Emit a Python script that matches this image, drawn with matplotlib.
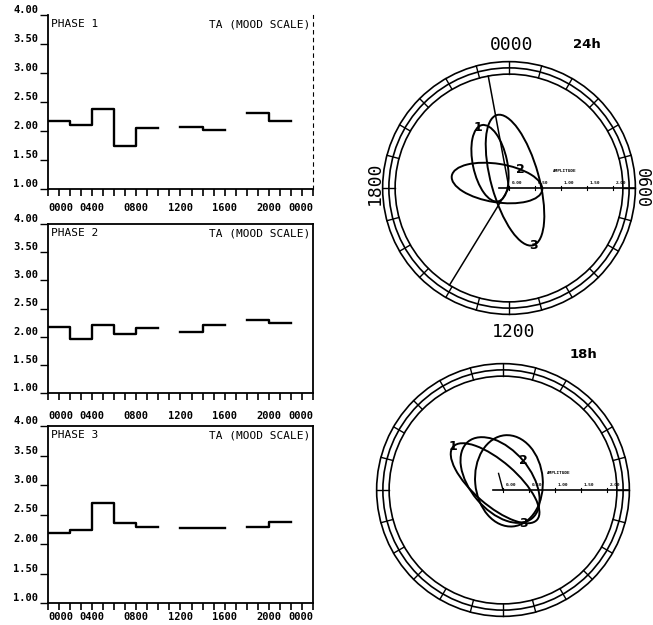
import numpy as np
import matplotlib
matplotlib.use("Agg")
import matplotlib.pyplot as plt
from matplotlib.patches import Ellipse, Circle

nan = np.nan

# mean TA (mood scale) per 2-hour bin, bins start at 0000; nan = no data
bin_start = [0, 2, 4, 6, 8, 10, 12, 14, 16, 18, 20, 22]
phase1 = [2.18, 2.10, 2.38, 1.74, 2.05, nan, 2.07, 2.01, nan, 2.31, 2.18, nan]
phase2 = [2.17, 1.95, 2.21, 2.05, 2.15, nan, 2.09, 2.20, nan, 2.30, 2.25, nan]
phase3 = [2.18, 2.23, 2.69, 2.36, 2.28, nan, 2.27, 2.27, nan, 2.29, 2.38, nan]
phase_titles = ["PHASE 1", "PHASE 2", "PHASE 3"]

hour_ticks = [0, 4, 8, 12, 16, 20, 24]
hour_labels = ["0000", "0400", "0800", "1200", "1600", "2000", "0000"]
ta_ticks = [1.0, 1.5, 2.0, 2.5, 3.0, 3.5, 4.0]

# cosinor ellipses: centre amplitude, centre acrophase (h), semi-axes, tilt (deg)
cos24_label = ["1", "2", "3"]
cos24_amp = [0.60, 0.25, 0.19]
cos24_acro = [21.5, 19.5, 2.5]
cos24_semi_a = [0.75, 0.88, 1.30]
cos24_semi_b = [0.33, 0.37, 0.46]
cos24_tilt = [102, -9, 105.5]
cos24_lines = [23.3, 14.1]  # acrophase limits (h)

cos18_label = ["1", "2", "3"]
cos18_amp = [0.20, 0.20, 0.21]
cos18_acro = [20.7, 22.9, 2.2]
cos18_semi_a = [1.07, 0.96, 0.88]
cos18_semi_b = [0.42, 0.58, 0.65]
cos18_tilt = [-41, -50, 95]

amp_ticks = [0.0, 0.5, 1.0, 1.5, 2.0]

MONO = "DejaVu Sans Mono"
RINGS = [2.19, 2.31, 2.43]


def polar_xy(amp, hour):
    ang = np.deg2rad(np.asarray(hour) / 24.0 * 360.0)
    return amp * np.sin(ang), amp * np.cos(ang)


def draw_profile(ax, values, title, ipanel, pad):
    ax.step(bin_start, values, where="post", color="black", lw=1.7)
    ax.set_xlim(0, 24)
    ax.set_ylim(1, 4)
    ax.set_xticks(hour_ticks)
    ax.set_xticks(range(25), minor=True)
    ax.set_xticklabels(hour_labels, fontfamily=MONO, fontweight="bold", fontsize=7.5)
    labs = ax.get_xticklabels()
    labs[0].set_ha("left")
    labs[-1].set_ha("right")
    ax.set_yticks(ta_ticks)
    ax.set_yticklabels(["%.2f" % v for v in ta_ticks], fontfamily=MONO,
                       fontweight="bold", fontsize=7.5)
    for lab in ax.get_yticklabels():
        lab.set_va("bottom")
    ax.tick_params(axis="x", which="both", direction="out", length=5, width=1.2, pad=pad)
    ax.tick_params(axis="y", direction="out", length=6, width=1.0, pad=1)
    for s in ax.spines.values():
        s.set_linewidth(1.3)
    if ipanel == 0:
        ax.spines["top"].set_visible(False)
        ax.spines["right"].set_linestyle((0, (3, 4)))
        ax.spines["right"].set_linewidth(0.8)
    ax.text(0.01, 0.975, title, transform=ax.transAxes, ha="left", va="top",
            fontfamily=MONO, fontsize=8)
    ax.text(0.99, 0.975, "TA (MOOD SCALE)", transform=ax.transAxes, ha="right",
            va="top", fontfamily=MONO, fontsize=8)


def draw_cosinor(ax, labels, amps, acros, sa, sb, tilts, label_t):
    half = 150 / 52.0
    ax.set_xlim(-half, half)
    ax.set_ylim(-half, half)
    ax.set_aspect("equal")
    ax.axis("off")
    for r in RINGS:
        ax.add_patch(Circle((0, 0), r, fill=False, lw=1.2, ec="black"))
    for k in range(24):
        x0, y0 = polar_xy(RINGS[0], k)
        x1, y1 = polar_xy(RINGS[2], k)
        ax.plot([x0, x1], [y0, y1], color="black", lw=1.0)
    # amplitude axis
    ax.plot([-0.2, RINGS[2]], [0, 0], color="black", lw=1.2)
    for t in amp_ticks:
        ax.plot([t, t], [-0.04, 0.04], color="black", lw=0.8)
        ax.text(t + 0.05, 0.06, "%.2f" % t, fontsize=3.2, fontweight="bold",
                ha="left", va="bottom", fontfamily=MONO)
    ax.text(1.08, 0.33, "AMPLITUDE", fontsize=3.2, fontweight="bold",
            ha="center", va="center", fontfamily=MONO)
    for lab, a, h, A, B, tilt, tp in zip(labels, amps, acros, sa, sb, tilts, label_t):
        cx, cy = polar_xy(a, h)
        ax.add_patch(Ellipse((cx, cy), 2 * A, 2 * B, angle=tilt, fill=False,
                             lw=1.4, ec="black"))
        th = np.deg2rad(tilt)
        tt = np.deg2rad(tp)
        px = cx + A * np.cos(tt) * np.cos(th) - B * np.sin(tt) * np.sin(th)
        py = cy + A * np.cos(tt) * np.sin(th) + B * np.sin(tt) * np.cos(th)
        ax.text(px, py, lab, fontsize=9, fontweight="bold", ha="center",
                va="center", fontfamily="DejaVu Sans")


fig = plt.figure(figsize=(6.53, 6.25), dpi=100)

panel_boxes = [
    [48 / 653, 1 - 189 / 625, 265 / 653, 174 / 625],
    [48 / 653, 1 - 393 / 625, 265 / 653, 169 / 625],
    [48 / 653, 1 - 603 / 625, 265 / 653, 177 / 625],
]
pads = [5, 8, 1.5]
for i, vals in enumerate([phase1, phase2, phase3]):
    ax = fig.add_axes(panel_boxes[i])
    draw_profile(ax, vals, phase_titles[i], i, pads[i])

# 24h cosinor
ax24 = fig.add_axes([(509 - 150) / 653, 1 - (188 + 150) / 625, 300 / 653, 300 / 625])
draw_cosinor(ax24, cos24_label, cos24_amp, cos24_acro, cos24_semi_a,
             cos24_semi_b, cos24_tilt, [15, 62, 180])
for h in cos24_lines:
    x, y = polar_xy(RINGS[0], h)
    ax24.plot([0, x], [0, y], color="black", lw=1.1)
ax24.text(0.05, 2.75, "0000", fontfamily=MONO, fontsize=13, ha="center", va="center")
ax24.text(1.50, 2.75, "24h", fontfamily="DejaVu Sans", fontsize=9.5,
          fontweight="bold", ha="center", va="center")
ax24.text(-2.58, 0.10, "1800", fontfamily=MONO, fontsize=13, rotation=90,
          ha="center", va="center")
ax24.text(2.56, 0.0, "0600", fontfamily=MONO, fontsize=12, rotation=270,
          ha="center", va="center")
ax24.text(0.08, -2.77, "1200", fontfamily=MONO, fontsize=13, ha="center", va="center")

# 18h cosinor
ax18 = fig.add_axes([(503 - 150) / 653, 1 - (490 + 150) / 625, 300 / 653, 300 / 625])
draw_cosinor(ax18, cos18_label, cos18_amp, cos18_acro, cos18_semi_a,
             cos18_semi_b, cos18_tilt, [180, 90, 198])
x, y = polar_xy(0.33, 23.0)
ax18.plot([0, x], [0, y], color="black", lw=1.0)
ax18.text(1.54, 2.60, "18h", fontfamily="DejaVu Sans", fontsize=9.5,
          fontweight="bold", ha="center", va="center")

fig.savefig("out.png", dpi=100)
